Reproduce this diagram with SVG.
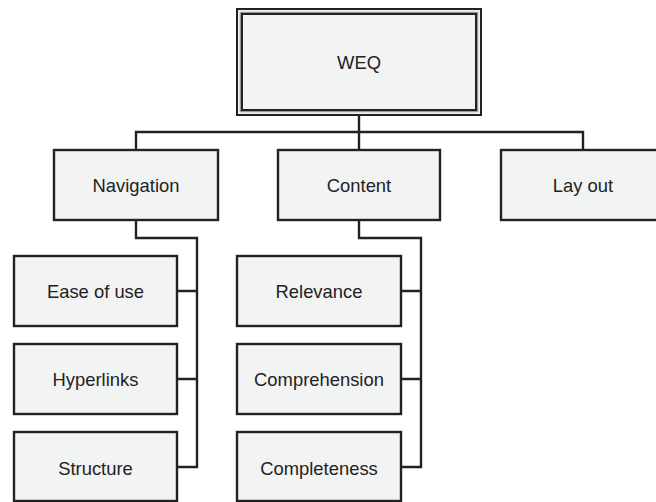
<svg xmlns="http://www.w3.org/2000/svg" width="656" height="502" viewBox="0 0 656 502">
<style>
.box{fill:#f2f3f3;stroke:#222;stroke-width:2.4}
.lbl{font-family:"Liberation Sans",Arial,sans-serif;font-size:18.4px;fill:#222;text-anchor:middle}
.conn{fill:none;stroke:#222;stroke-width:2.4}
</style>
<rect width="656" height="502" fill="#fff"/>
<g id="connectors">
<path class="conn" d="M359,115 V132 M136,150 V132 H583 V150 M359,132 V150"/>
<path class="conn" d="M136,220 V238 H197 V467 H177 M177,291 H197 M177,379 H197"/>
<path class="conn" d="M359,220 V238 H421 V467 H401 M401,291 H421 M401,379 H421"/>
</g>
<g id="weq">
<rect x="237" y="9" width="244" height="106" fill="#f2f3f3" stroke="#222" stroke-width="2"/>
<rect x="240.5" y="12.5" width="237" height="99" fill="none" stroke="#999" stroke-width="1.5"/>
<rect x="242" y="14" width="234" height="96" fill="none" stroke="#222" stroke-width="2"/>
<text class="lbl" x="359" y="69">WEQ</text>
</g>
<g id="navigation">
<rect class="box" x="54" y="150" width="164" height="70"/>
<text class="lbl" x="136" y="191.5">Navigation</text>
</g>
<g id="content">
<rect class="box" x="278" y="150" width="162" height="70"/>
<text class="lbl" x="359" y="191.5">Content</text>
</g>
<g id="layout">
<rect class="box" x="501" y="150" width="164" height="70"/>
<text class="lbl" x="583" y="191.5">Lay out</text>
</g>
<g id="ease">
<rect class="box" x="14" y="256" width="163" height="70"/>
<text class="lbl" x="95.5" y="297.5">Ease of use</text>
</g>
<g id="hyperlinks">
<rect class="box" x="14" y="344" width="163" height="70"/>
<text class="lbl" x="95.5" y="385.5">Hyperlinks</text>
</g>
<g id="structure">
<rect class="box" x="14" y="432" width="163" height="69"/>
<text class="lbl" x="95.5" y="474.5">Structure</text>
</g>
<g id="relevance">
<rect class="box" x="237" y="256" width="164" height="70"/>
<text class="lbl" x="319" y="297.5">Relevance</text>
</g>
<g id="comprehension">
<rect class="box" x="237" y="344" width="164" height="70"/>
<text class="lbl" x="319" y="385.5">Comprehension</text>
</g>
<g id="completeness">
<rect class="box" x="237" y="432" width="164" height="69"/>
<text class="lbl" x="319" y="474.5">Completeness</text>
</g>
</svg>
